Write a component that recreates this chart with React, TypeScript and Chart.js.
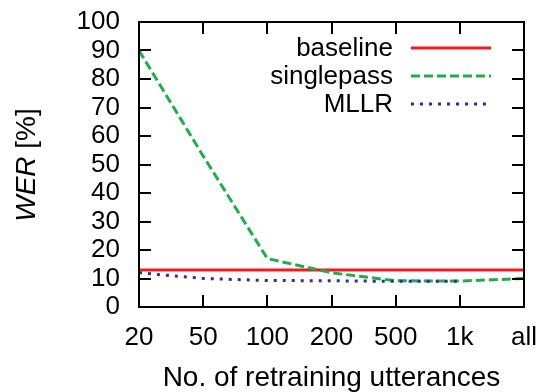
import React, { useEffect, useRef } from 'react';
import { Chart, registerables } from 'chart.js';
Chart.register(...registerables);

const categories = ['20', '50', '100', '200', '500', '1k', 'all'];
const baselineValues = [13, 13, 13, 13, 13, 13, 13];
const singlepassValues = [90, 53, 17, 12, 9.2, 9.1, 10];
const mllrValues: (number | null)[] = [12, 10, 9.3, 9.2, 9, 9, null];
const yTickValues = [0, 10, 20, 30, 40, 50, 60, 70, 80, 90, 100];
const seriesLabels = ['baseline', 'singlepass', 'MLLR'];
const xTitle = 'No. of retraining utterances';
const yTitleItalic = 'WER';
const yTitleRest = ' [%]';

const FONT = '"Liberation Sans", Arial, sans-serif';
const FS = 26;
const FT = 28;

const framePlugin = {
  id: 'framePlugin',
  afterDraw(chart: any) {
    const ctx = chart.ctx as CanvasRenderingContext2D;
    const area = chart.chartArea;
    const left = Math.round(area.left);
    const right = Math.round(area.right);
    const top = Math.round(area.top);
    const bottom = Math.round(area.bottom);
    const xs = chart.scales.x;
    const ys = chart.scales.y;
    const TL = 12;
    const LW = 2;
    ctx.save();
    ctx.fillStyle = '#000000';
    // frame
    ctx.fillRect(left - 1, top - 1, right - left + 2, LW);
    ctx.fillRect(left - 1, bottom - 1, right - left + 2, LW);
    ctx.fillRect(left - 1, top - 1, LW, bottom - top + 2);
    ctx.fillRect(right - 1, top - 1, LW, bottom - top + 2);
    // inward ticks on all four sides
    for (let i = 0; i < categories.length; i++) {
      const x = Math.round(xs.getPixelForValue(i));
      ctx.fillRect(x - 1, bottom - TL, LW, TL);
      ctx.fillRect(x - 1, top, LW, TL);
    }
    for (const v of yTickValues) {
      const y = Math.round(ys.getPixelForValue(v));
      ctx.fillRect(left, y - 1, TL, LW);
      ctx.fillRect(right - TL, y - 1, TL, LW);
    }

    // legend
    const datasets = chart.data.datasets;
    const textRight = 393;
    const lineL = 411;
    const lineR = 491;
    const rowY = [48, 76, 104];
    ctx.font = `${FS}px ${FONT}`;
    ctx.textAlign = 'right';
    ctx.textBaseline = 'middle';
    datasets.forEach((ds: any, i: number) => {
      const y = rowY[i];
      ctx.fillStyle = '#000000';
      ctx.fillText(ds.label, textRight, y + 1);
      ctx.beginPath();
      ctx.strokeStyle = ds.borderColor;
      ctx.lineWidth = ds.borderWidth;
      ctx.setLineDash(ds.borderDash || []);
      ctx.moveTo(lineL, y);
      ctx.lineTo(lineR, y);
      ctx.stroke();
    });
    ctx.setLineDash([]);

    // y title
    const fItal = `italic ${FT}px ${FONT}`;
    const fNorm = `${FT}px ${FONT}`;
    ctx.save();
    ctx.fillStyle = '#000';
    ctx.translate(27, 165);
    ctx.rotate(-Math.PI / 2);
    ctx.textBaseline = 'middle';
    ctx.textAlign = 'left';
    ctx.font = fItal;
    const w1 = ctx.measureText(yTitleItalic).width;
    ctx.font = fNorm;
    const w2 = ctx.measureText(yTitleRest).width;
    const start = -(w1 + w2) / 2;
    ctx.font = fItal;
    ctx.fillText(yTitleItalic, start, 0);
    ctx.font = fNorm;
    ctx.fillText(yTitleRest, start + w1, 0);
    ctx.restore();

    // x title
    ctx.fillStyle = '#000';
    ctx.textAlign = 'center';
    ctx.textBaseline = 'alphabetic';
    ctx.font = fNorm;
    ctx.fillText(xTitle, (left + right) / 2, 386);
    ctx.restore();
  },
};

export default function App() {
  const ref = useRef<HTMLCanvasElement | null>(null);
  useEffect(() => {
    document.body.style.margin = '0';
    const canvas = ref.current!;
    const chart = new Chart(canvas, {
      type: 'line',
      data: {
        labels: categories,
        datasets: [
          {
            label: seriesLabels[0],
            data: baselineValues,
            borderColor: '#ed1c24',
            borderWidth: 3,
            pointRadius: 0,
            order: 3,
          },
          {
            label: seriesLabels[1],
            data: singlepassValues,
            borderColor: '#1fae4b',
            borderWidth: 3,
            borderDash: [9, 4],
            pointRadius: 0,
            order: 2,
          },
          {
            label: seriesLabels[2],
            data: mllrValues,
            borderColor: '#2e3192',
            borderWidth: 3,
            borderDash: [3, 6],
            pointRadius: 0,
            order: 1,
          },
        ] as any,
      },
      options: {
        animation: false,
        responsive: false,
        maintainAspectRatio: false,
        layout: { padding: { left: 0, right: 14, top: 22, bottom: 0 } },
        plugins: { legend: { display: false }, tooltip: { enabled: false } },
        scales: {
          x: {
            type: 'category',
            offset: false,
            grid: { display: false, drawTicks: false },
            border: { display: false },
            ticks: {
              autoSkip: false,
              maxRotation: 0,
              padding: 15,
              color: '#000',
              font: { family: FONT, size: FS },
            },
            afterFit: (s: any) => {
              s.height = 85;
              s.paddingLeft = 0;
              s.paddingRight = 0;
            },
          },
          y: {
            min: 0,
            max: 100,
            grid: { display: false, drawTicks: false },
            border: { display: false },
            ticks: {
              stepSize: 10,
              autoSkip: false,
              padding: 19,
              color: '#000',
              font: { family: FONT, size: FS },
            },
            afterFit: (s: any) => {
              s.width = 139;
              s.paddingTop = 0;
              s.paddingBottom = 0;
            },
          },
        },
      },
      plugins: [framePlugin],
    });
    return () => chart.destroy();
  }, []);
  return <canvas ref={ref} width={538} height={392} style={{ display: 'block' }} />;
}
